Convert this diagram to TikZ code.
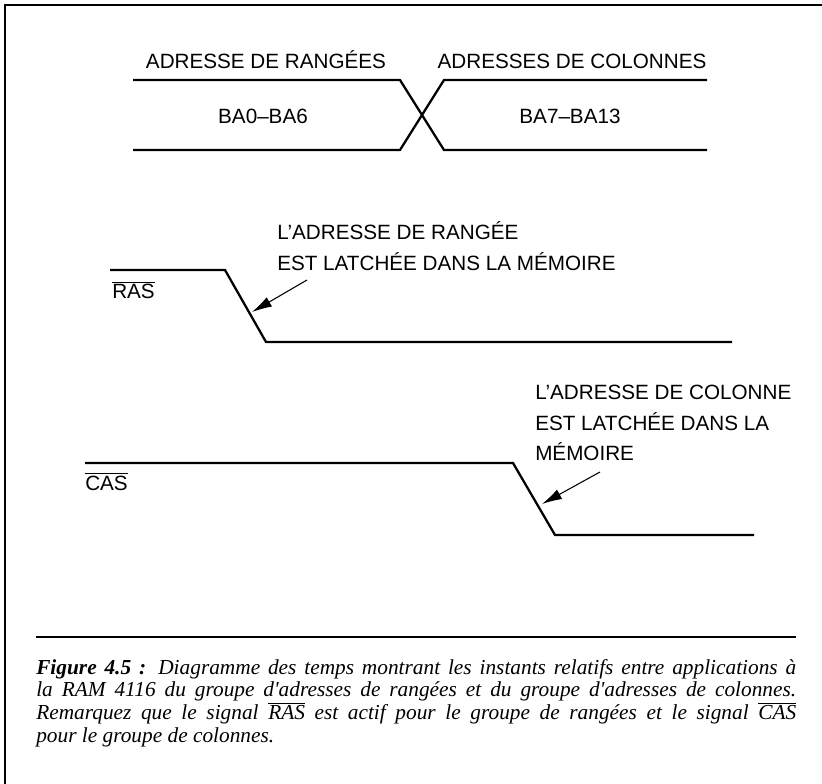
\documentclass[tikz,border=0pt]{standalone}
\usepackage{fontspec}
\setmainfont{Liberation Sans}
\newfontfamily\captionfont{Liberation Serif}
\usetikzlibrary{arrows.meta}

\def\px{0.75pt}

\begin{document}
\begin{tikzpicture}[x=\px, y=-\px,
    every node/.style={inner sep=0pt},
    signal/.style={line width=1.7pt, line join=miter},
    pointer/.style={line width=0.8pt, -{Latex[length=15pt,width=8pt]}},
    label/.style={font=\fontsize{15.5}{23.25}\selectfont}]
  \useasboundingbox (0,0) rectangle (822,784);
  \draw[line width=1.8pt] (5,784) -- (5,5) -- (822,5);

  % address bus: rows, then columns
  \draw[signal] (133,80) -- (400,80) -- (444,150) -- (707,150);
  \draw[signal] (133,150) -- (400,150) -- (444,80) -- (707,80);
  \node[label, anchor=base] (rowtitle) at (266,69) {ADRESSE DE RANGÉES};
  \node[label, anchor=base] (coltitle) at (572,69) {ADRESSES DE COLONNES};
  \node[label, anchor=base] (rowbits) at (263,124) {BA0--BA6};
  \node[label, anchor=base] (colbits) at (570,124) {BA7--BA13};

  % RAS strobe
  \draw[signal] (110,270) -- (225,270) -- (266,342) -- (732,342);
  \node[label, anchor=base west] (ras) at (112,299) {$\overline{\mbox{RAS}}$};
  \node[label, anchor=base west, align=left] (rasnote) at (277,271)
    {L'ADRESSE DE RANGÉE\\EST LATCHÉE DANS LA MÉMOIRE};
  \coordinate (rastail) at (307,280);
  \coordinate (rasedge) at (252,312);
  \draw[pointer] (rastail) -- (rasedge);

  % CAS strobe
  \draw[signal] (85,463) -- (513,463) -- (555,535) -- (754,535);
  \node[label, anchor=base west] (cas) at (85,490) {$\overline{\mbox{CAS}}$};
  \node[label, anchor=base west, align=left] (casnote) at (535,461)
    {L'ADRESSE DE COLONNE\\EST LATCHÉE DANS LA\\MÉMOIRE};
  \coordinate (castail) at (600,472);
  \coordinate (casedge) at (542,504);
  \draw[pointer] (castail) -- (casedge);

  % caption
  \draw[line width=1.5pt] (36,637) -- (796,637);
  \node[anchor=north west, text width=570pt, align=justify,
        font=\captionfont\itshape\fontsize{16}{17}\selectfont] (caption) at (36,659)
    {\textbf{Figure 4.5 :} Diagramme des temps montrant les instants relatifs entre applications à\linebreak
     la RAM 4116 du groupe d'adresses de rangées et du groupe d'adresses de colonnes.\linebreak
     Remarquez que le signal $\overline{\mbox{RAS}}$ est actif pour le groupe de rangées et le signal $\overline{\mbox{CAS}}$\linebreak
     pour le groupe de colonnes.};
\end{tikzpicture}
\end{document}
